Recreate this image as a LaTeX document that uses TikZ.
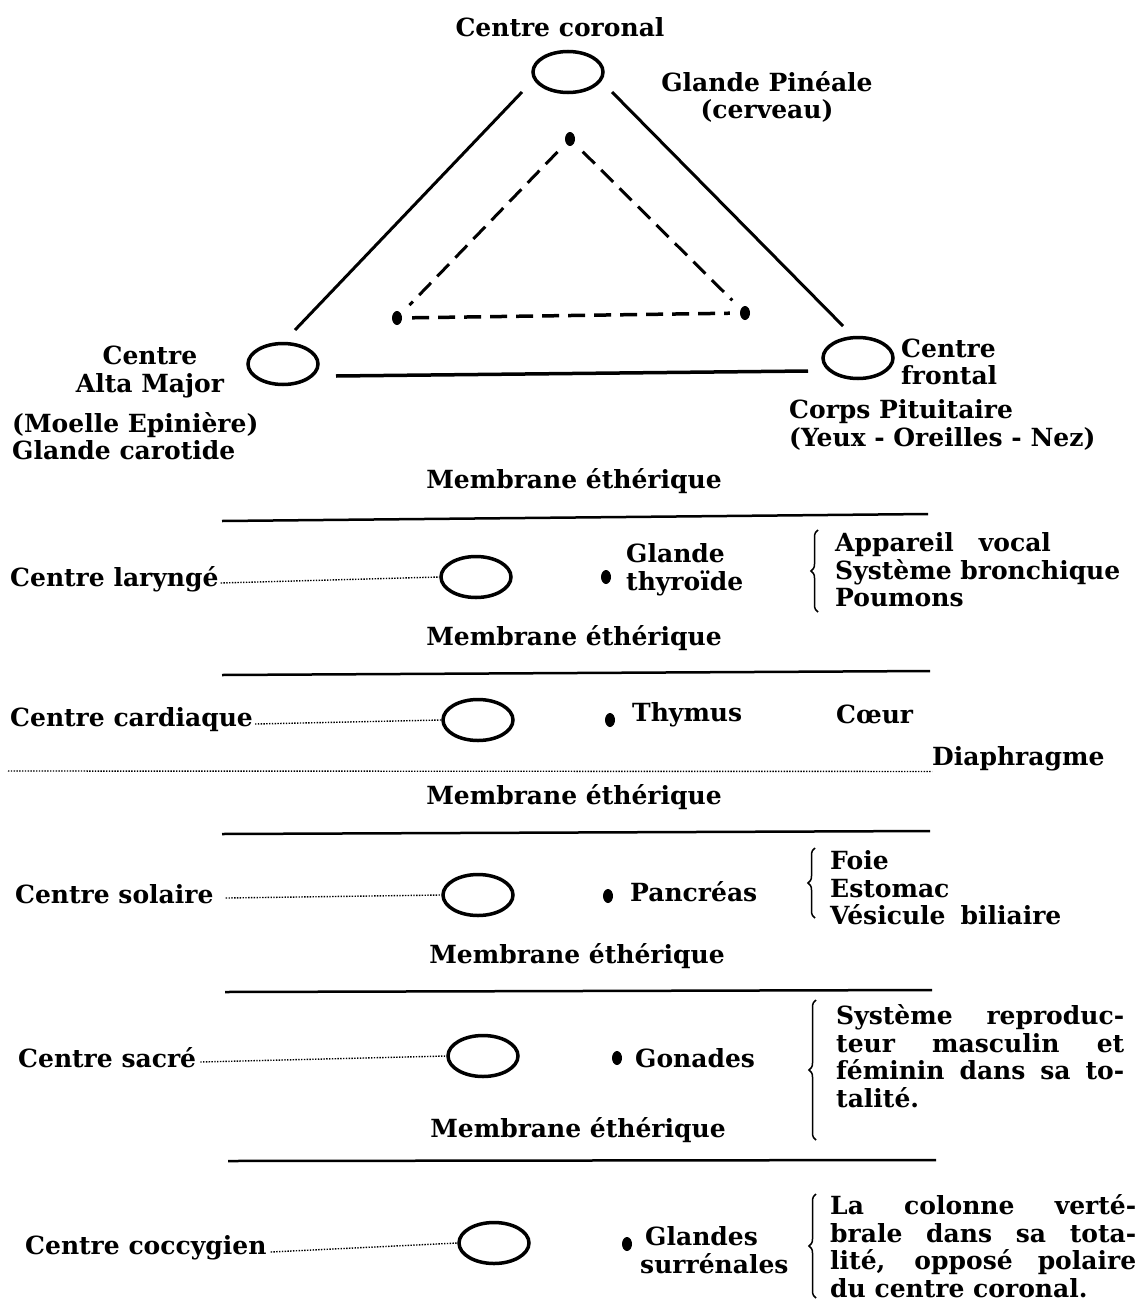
\documentclass[tikz,border=0pt]{standalone}
\usepackage{fontspec}
\setmainfont{DejaVu Serif}
\usetikzlibrary{shapes.geometric,decorations.pathreplacing}
\begin{document}
\begin{tikzpicture}[x=1pt,y=-1pt,
    every node/.style={font=\fontsize{25}{27.5}\selectfont\bfseries,inner sep=0pt},
    centre/.style={shape=ellipse,draw=black,line width=3.5pt,minimum width=70pt,minimum height=41pt},
    glande/.style={shape=ellipse,fill=black,minimum width=10pt,minimum height=14pt},
    membrane/.style={line width=2.5pt},
    pointille/.style={line width=1.4pt,dash pattern=on 1.4pt off 1.4pt},
    accolade/.style={decorate,decoration={brace,amplitude=7pt},line width=1.5pt}]
  \useasboundingbox (0,0) rectangle (1144,1306);
  % triangle de tete
  \node (coronalt) at (560,27) {Centre coronal};
  \node[centre] (coronal) at (568,72) {};
  \node[align=center] (pineale) at (767,97) {Glande Pinéale\\(cerveau)};
  \node[centre] (altamajor) at (283,364) {};
  \node[align=center] (altamajort) at (150,372) {Centre\\Alta Major};
  \node[align=left,anchor=west] (moelle) at (12,436) {(Moelle Epinière)\\Glande carotide};
  \node[centre] (frontal) at (858,358) {};
  \node[align=left,anchor=west] (frontalt) at (901,362) {Centre\\frontal};
  \node[align=left,anchor=west] (pituitaire) at (789,425) {Corps Pituitaire\\(Yeux - Oreilles - Nez)};
  \coordinate (c1) at (522,92);
  \coordinate (c2) at (295,330);
  \coordinate (c3) at (612,92);
  \coordinate (c4) at (843,326);
  \coordinate (c5) at (336,376);
  \coordinate (c6) at (808,371);
  \draw[line width=3pt] (c1) -- (c2);
  \draw[line width=3pt] (c3) -- (c4);
  \draw[line width=3.5pt] (c5) -- (c6);
  \node[glande] (d1) at (570,139) {};
  \node[glande] (d2) at (397,318) {};
  \node[glande] (d3) at (745,313) {};
  \draw[line width=3pt,dash pattern=on 17pt off 9pt,shorten <=12pt,shorten >=12pt] (d1) -- (d2);
  \draw[line width=3pt,dash pattern=on 17pt off 9pt,shorten <=12pt,shorten >=12pt] (d1) -- (d3);
  \draw[line width=3.5pt,dash pattern=on 17pt off 9pt,shorten <=10pt,shorten >=10pt] (d2) -- (d3);
  \node (m1) at (574,481) {Membrane éthérique};
  \draw[membrane] (222,521) -- (928,514);
  % centre laryngé
  \node[anchor=west] (larynget) at (10,579) {Centre laryngé};
  \node[centre] (larynge) at (476,577) {};
  \node[glande] (thyroide) at (606,577) {};
  \node[align=left,anchor=west] (thyroidet) at (626,570) {Glande\\thyroïde};
  \draw[pointille] (larynget.east) ++(2,4) -- (larynge.west);
  \coordinate (a1) at (818,612);
  \coordinate (a2) at (818,530);
  \draw[accolade] (a1) -- (a2);
  \node[align=left,anchor=west] (vocal) at (835,570) {Appareil\hspace{1em}vocal\\Système bronchique\\Poumons};
  \node (m2) at (574,638) {Membrane éthérique};
  \draw[membrane] (222,675) -- (930,671);
  % centre cardiaque
  \node[anchor=west] (cardiaquet) at (10,720) {Centre cardiaque};
  \node[centre] (cardiaque) at (478,720) {};
  \node[glande] (thymus) at (610,720) {};
  \node[anchor=west] (thymust) at (632,715) {Thymus};
  \node[anchor=west] (coeur) at (836,714) {Cœur};
  \draw[pointille] (cardiaquet.east) ++(2,4) -- (cardiaque.west);
  \node[anchor=west] (diaphragme) at (932,759) {Diaphragme};
  \coordinate (dia) at (8,771);
  \draw[pointille] (dia) -- (diaphragme.south west);
  \node (m3) at (574,797) {Membrane éthérique};
  \draw[membrane] (222,834) -- (930,831);
  % centre solaire
  \node[anchor=west] (solairet) at (15,894) {Centre solaire};
  \node[centre] (solaire) at (478,895) {};
  \node[glande] (pancreas) at (608,896) {};
  \node[anchor=west] (pancreast) at (630,892) {Pancréas};
  \draw[pointille] (solairet.east) ++(12,4) -- (solaire.west);
  \coordinate (a3) at (815,918);
  \coordinate (a4) at (815,848);
  \draw[accolade] (a3) -- (a4);
  \node[align=left,anchor=west] (foie) at (830,888) {Foie\\Estomac\\Vésicule\hspace{0.6em}biliaire};
  \node (m4) at (577,956) {Membrane éthérique};
  \draw[membrane] (225,992) -- (932,990);
  % centre sacré
  \node[anchor=west] (sacret) at (18,1058) {Centre sacré};
  \node[centre] (sacre) at (483,1056) {};
  \node[glande] (gonades) at (617,1058) {};
  \node[anchor=west] (gonadest) at (635,1058) {Gonades};
  \draw[pointille] (sacret.east) ++(4,4) -- (sacre.west);
  \coordinate (a5) at (816,1140);
  \coordinate (a6) at (816,1000);
  \draw[accolade] (a5) -- (a6);
  \node[text width=288pt,align=justify,anchor=west] (reproducteur) at (836,1056)
    {Système reproduc-\linebreak teur masculin et\linebreak féminin dans sa to-\linebreak talité.};
  \node (m5) at (578,1130) {Membrane éthérique};
  \draw[membrane] (228,1161) -- (936,1160);
  % centre coccygien
  \node[anchor=west] (coccygient) at (25,1248) {Centre coccygien};
  \node[centre] (coccygien) at (494,1243) {};
  \node[glande] (surrenales) at (627,1244) {};
  \node[align=left,anchor=west] (surrenalest) at (640,1250) {\hspace{5pt}Glandes\\surrénales};
  \draw[pointille] (coccygient.east) ++(4,4) -- (coccygien.west);
  \coordinate (a7) at (816,1298);
  \coordinate (a8) at (816,1194);
  \draw[accolade] (a7) -- (a8);
  \node[text width=306pt,align=justify,anchor=west] (colonne) at (830,1246)
    {La colonne verté-\linebreak brale dans sa tota-\linebreak lité, opposé polaire\linebreak du centre coronal.};
\end{tikzpicture}
\end{document}
